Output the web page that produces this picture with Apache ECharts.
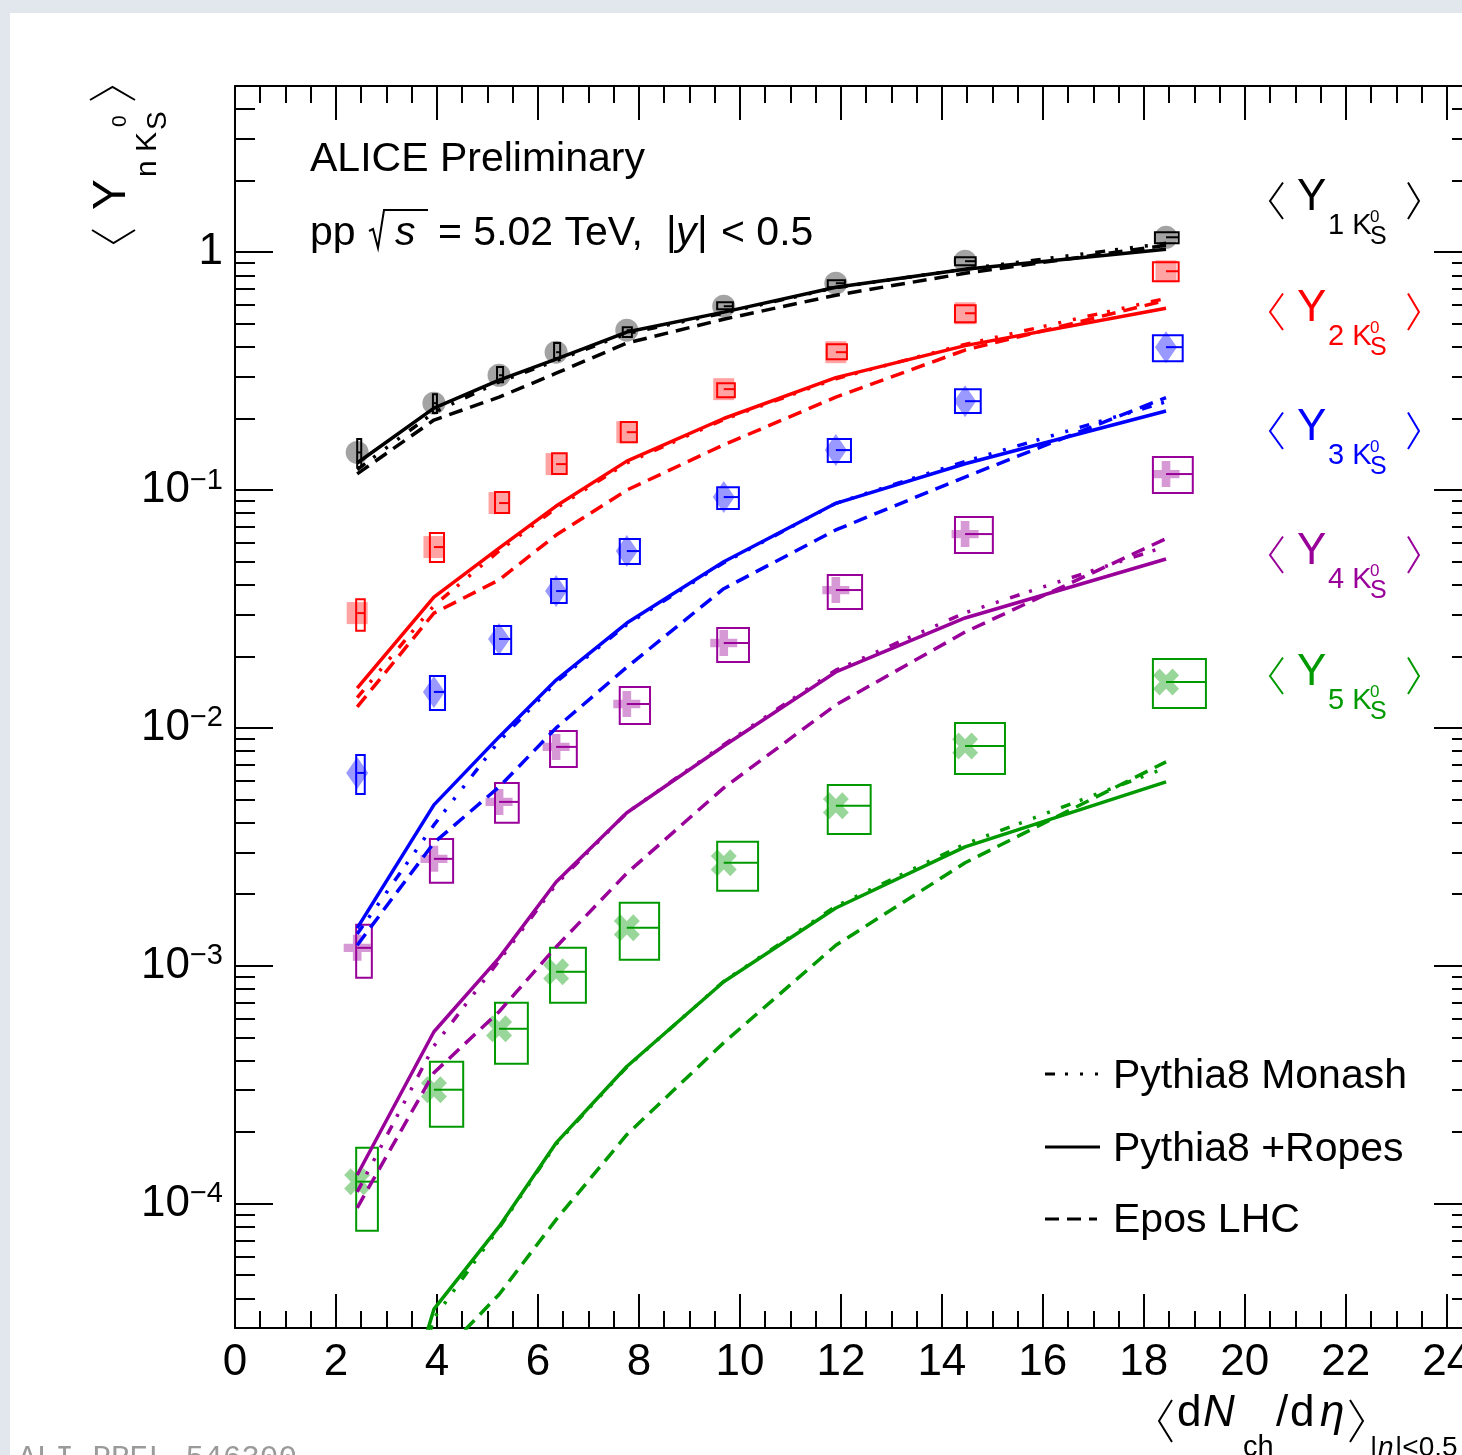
<!DOCTYPE html>
<html><head><meta charset="utf-8">
<script src="https://cdn.jsdelivr.net/npm/echarts@6/dist/echarts.min.js"></script>
<style>
html,body{margin:0;padding:0;background:#e1e7ed;width:1462px;height:1455px;overflow:hidden;}
#bg{position:absolute;left:10px;top:13px;width:1452px;height:1442px;background:#fff;}
#c{position:absolute;left:0;top:0;width:1462px;height:1455px;}
</style>
</head><body><div id="bg"></div><div id="c"></div>
<script>
// ---------- data ----------
const xVals = [2.42, 3.94, 5.23, 6.36, 7.76, 9.68, 11.90, 14.46, 18.44];

// <Y_1K0S>
const yield1 = [0.144, 0.232, 0.304, 0.380, 0.470, 0.593, 0.741, 0.917, 1.156];
const sysHi1 = [0.164, 0.253, 0.329, 0.415, 0.484, 0.617, 0.763, 0.953, 1.213];
const sysLo1 = [0.125, 0.211, 0.284, 0.359, 0.440, 0.576, 0.713, 0.882, 1.091];
const boxL1 = [2.42, 3.92, 5.19, 6.32, 7.68, 9.55, 11.74, 14.26, 18.22];
const boxR1 = [2.50, 4.00, 5.31, 6.44, 7.86, 9.86, 12.08, 14.67, 18.69];
// <Y_2K0S>
const yield2 = [0.0304, 0.0576, 0.0882, 0.1286, 0.1752, 0.2657, 0.380, 0.554, 0.832];
const sysHi2 = [0.0348, 0.0660, 0.0981, 0.1430, 0.1931, 0.2816, 0.4106, 0.5988, 0.9078];
const sysLo2 = [0.0256, 0.0498, 0.0801, 0.1168, 0.1591, 0.2459, 0.3551, 0.5080, 0.7553];
const boxL2 = [2.40, 3.86, 5.15, 6.28, 7.64, 9.55, 11.72, 14.26, 18.18];
const boxR2 = [2.57, 4.14, 5.43, 6.57, 7.96, 9.90, 12.12, 14.67, 18.69];
// <Y_3K0S>
const yield3 = [0.00647, 0.01417, 0.02365, 0.03763, 0.05542, 0.09346, 0.1473, 0.2365, 0.399];
const sysHi3 = [0.00770, 0.01654, 0.02683, 0.04227, 0.06223, 0.1029, 0.1638, 0.2657, 0.448];
const sysLo3 = [0.00528, 0.01190, 0.02046, 0.03351, 0.04888, 0.08324, 0.1311, 0.2107, 0.3483];
const boxL3 = [2.40, 3.86, 5.13, 6.26, 7.62, 9.55, 11.74, 14.26, 18.18];
const boxR3 = [2.57, 4.16, 5.47, 6.57, 8.02, 9.98, 12.20, 14.77, 18.77];
// <Y_4K0S>
const yield4 = [0.00119, 0.002816, 0.004888, 0.008324, 0.01261, 0.02276, 0.0380, 0.06533, 0.1168];
const sysHi4 = [0.001488, 0.003416, 0.005873, 0.009714, 0.01488, 0.02632, 0.04395, 0.07701, 0.1376];
const sysLo4 = [0.000890, 0.002232, 0.003990, 0.006858, 0.01040, 0.01893, 0.03162, 0.05435, 0.09714];
const boxL4 = [2.40, 3.86, 5.15, 6.24, 7.62, 9.55, 11.74, 14.26, 18.18];
const boxR4 = [2.71, 4.32, 5.62, 6.77, 8.22, 10.18, 12.42, 15.01, 18.97];
// <Y_5K0S>
const yield5 = [0.0001237, 0.0003013, 0.0005435, 0.0009436, 0.001444, 0.002709, 0.004703, 0.008403, 0.01561];
const sysHi5 = [0.0001719, 0.000395, 0.0006992, 0.00119, 0.001839, 0.003319, 0.005761, 0.0105, 0.0195];
const sysLo5 = [0.0000770, 0.0002107, 0.0003875, 0.0006992, 0.001059, 0.002066, 0.003585, 0.006408, 0.01213];
const boxL5 = [2.40, 3.86, 5.15, 6.24, 7.62, 9.55, 11.74, 14.26, 18.18];
const boxR5 = [2.83, 4.52, 5.80, 6.95, 8.40, 10.36, 12.59, 15.25, 19.23];

// models
const ropes1  = [0.130, 0.221, 0.290, 0.355, 0.462, 0.560, 0.713, 0.848, 1.03];
const epos1   = [0.117, 0.197, 0.246, 0.310, 0.415, 0.523, 0.660, 0.816, 1.07];
const monash1 = [0.122, 0.212, 0.285, 0.350, 0.455, 0.555, 0.710, 0.850, 1.09];
const ropes2  = [0.0147, 0.0355, 0.0570, 0.0857, 0.1324, 0.200, 0.297, 0.405, 0.582];
const epos2   = [0.01226, 0.0304, 0.0419, 0.0647, 0.100, 0.155, 0.246, 0.388, 0.628];
const monash2 = [0.0134, 0.0327, 0.0555, 0.0840, 0.130, 0.198, 0.294, 0.410, 0.640];
const ropes3  = [0.00144, 0.00475, 0.00917, 0.0159, 0.0276, 0.050, 0.088, 0.129, 0.215];
const epos3   = [0.00122, 0.00329, 0.00565, 0.0100, 0.0180, 0.0385, 0.068, 0.1135, 0.245];
const monash3 = [0.00136, 0.00391, 0.0088, 0.0156, 0.0272, 0.0495, 0.088, 0.132, 0.235];
const ropes4  = [0.000132, 0.000528, 0.00108, 0.00225, 0.0044, 0.0084, 0.0172, 0.029, 0.0513];
const epos4   = [0.000096, 0.000355, 0.000641, 0.0012, 0.00245, 0.0056, 0.0125, 0.0253, 0.0625];
const monash4 = [0.000112, 0.00046, 0.00105, 0.0022, 0.0044, 0.0085, 0.0175, 0.0305, 0.058];
const ropes5  = [0.000003, 0.000036, 0.00008, 0.00018, 0.000377, 0.000857, 0.00175, 0.00316, 0.00593];
const epos5   = [0.0000015, 0.0000215, 0.0000415, 0.0000857, 0.000195, 0.000475, 0.00122, 0.00271, 0.0072];
const monash5 = [0.0000025, 0.000033, 0.000079, 0.000178, 0.000375, 0.00086, 0.00178, 0.00325, 0.0068];

// ticks
const xMajorTicks = [0, 2, 4, 6, 8, 10, 12, 14, 16, 18, 20, 22, 24];
const xMinorTicks = [0.5,1,1.5,2.5,3,3.5,4.5,5,5.5,6.5,7,7.5,8.5,9,9.5,10.5,11,11.5,12.5,13,13.5,14.5,15,15.5,16.5,17,17.5,18.5,19,19.5,20.5,21,21.5,22.5,23,23.5];
const yMajorTicks = [1e-4, 1e-3, 1e-2, 1e-1, 1];
const yMinorTicks = [4e-5,5e-5,6e-5,7e-5,8e-5,9e-5,
  2e-4,3e-4,4e-4,5e-4,6e-4,7e-4,8e-4,9e-4,
  2e-3,3e-3,4e-3,5e-3,6e-3,7e-3,8e-3,9e-3,
  0.02,0.03,0.04,0.05,0.06,0.07,0.08,0.09,
  0.2,0.3,0.4,0.5,0.6,0.7,0.8,0.9, 2,3,4];

// ---------- styles ----------
const FONT = '"Liberation Sans", Arial, Helvetica, "DejaVu Sans", sans-serif';
const COL = ['#000000', '#ff0000', '#0000ff', '#990099', '#009900'];
const FILL = ['rgba(0,0,0,0.45)', 'rgba(255,0,0,0.45)', 'rgba(0,0,255,0.5)', 'rgba(153,0,153,0.5)', 'rgba(0,153,0,0.5)'];
const PLUS = 'path://M3.4,0H6.6V3.4H10V6.6H6.6V10H3.4V6.6H0V3.4H3.4Z';
const CROSS = 'path://M0,2.5L2.5,0L5,2.5L7.5,0L10,2.5L7.5,5L10,7.5L7.5,10L5,7.5L2.5,10L0,7.5L2.5,5Z';
const SYM = ['circle', 'rect', 'diamond', PLUS, CROSS];
const SYMSIZE = [23, [21, 22], [22, 32], [27, 26], [26, 27]];
const DASH = [14, 8];
const DASHDOT = [10, 10, 3, 12, 3, 12, 3, 12];

const yields = [yield1, yield2, yield3, yield4, yield5];
const his = [sysHi1, sysHi2, sysHi3, sysHi4, sysHi5];
const los = [sysLo1, sysLo2, sysLo3, sysLo4, sysLo5];
const bLs = [boxL1, boxL2, boxL3, boxL4, boxL5];
const bRs = [boxR1, boxR2, boxR3, boxR4, boxR5];
const models = [
  [ropes1, epos1, monash1], [ropes2, epos2, monash2], [ropes3, epos3, monash3],
  [ropes4, epos4, monash4], [ropes5, epos5, monash5]];

const series = [];
for (let s = 0; s < 5; s++) {
  series.push({
    type: 'scatter', z: 3, silent: true,
    data: xVals.map((x, i) => [x, yields[s][i]]),
    symbol: SYM[s], symbolSize: SYMSIZE[s],
    itemStyle: { color: FILL[s] }
  });
}
for (let s = 0; s < 5; s++) {
  const col = COL[s];
  series.push({
    type: 'custom', z: 4, silent: true,
    data: xVals.map((x, i) => [bLs[s][i], bRs[s][i], los[s][i], his[s][i], x, yields[s][i]]),
    encode: { x: [0, 1, 4], y: [2, 3, 5] },
    renderItem: (params, api) => {
      const p1 = api.coord([api.value(0), api.value(3)]);
      const p2 = api.coord([api.value(1), api.value(2)]);
      const pm = api.coord([api.value(4), api.value(5)]);
      return { type: 'group', children: [
        { type: 'rect', shape: { x: p1[0], y: p1[1], width: p2[0] - p1[0], height: p2[1] - p1[1] },
          style: { fill: null, stroke: col, lineWidth: 2 } },
        { type: 'line', shape: { x1: pm[0], y1: pm[1], x2: p2[0], y2: pm[1] },
          style: { stroke: col, lineWidth: 2 } }
      ]};
    }
  });
}
const lineTypes = ['solid', DASH, DASHDOT];
for (let s = 0; s < 5; s++) {
  for (let m = 0; m < 3; m++) {
    series.push({
      type: 'line', z: 5, silent: true, symbol: 'none', showSymbol: false, clip: true,
      data: xVals.map((x, i) => [x, models[s][m][i]]),
      lineStyle: { color: COL[s], width: 3.5, type: lineTypes[m] }
    });
  }
}

function xAx(pos, ticks, len, withLabel, withLine) {
  return {
    type: 'value', min: 0, max: 24.5, position: pos, gridIndex: 0,
    axisLine: { show: withLine, onZero: false, lineStyle: { color: '#000', width: 2 } },
    axisTick: { show: true, inside: true, length: len, customValues: ticks, lineStyle: { color: '#000', width: 2 } },
    axisLabel: withLabel ? { show: true, customValues: ticks, fontSize: 44, fontFamily: FONT, color: '#000', margin: 13 } : { show: false },
    splitLine: { show: false }, minorTick: { show: false }
  };
}
function yAx(pos, ticks, len, withLabel, withLine) {
  return {
    type: 'log', logBase: 10, min: 3e-5, max: 5, position: pos, gridIndex: 0,
    axisLine: { show: withLine, onZero: false, lineStyle: { color: '#000', width: 2 } },
    axisTick: { show: true, inside: true, length: len, customValues: ticks, lineStyle: { color: '#000', width: 2 } },
    axisLabel: withLabel ? {
      show: true, customValues: ticks, margin: 12,
      formatter: v => {
        if (Math.abs(v - 1) < 1e-9) return '{b|1}';
        const e = Math.round(Math.log10(v));
        return '{b|10}{s|\u2212' + (-e) + '}';
      },
      rich: {
        b: { fontSize: 44, fontFamily: FONT, color: '#000', lineHeight: 48 },
        s: { fontSize: 29, fontFamily: FONT, color: '#000', lineHeight: 16, verticalAlign: 'top' }
      }
    } : { show: false },
    splitLine: { show: false }, minorTick: { show: false }
  };
}

// ---------- text helpers ----------
function txt(x, baseline, text, size, color, italic) {
  return { type: 'text', x: x, y: baseline - 0.35 * size, z: 50, silent: true,
    style: { text: text, fill: color || '#000', font: (italic ? 'italic ' : '') + size + 'px ' + FONT, verticalAlign: 'middle', align: 'left' } };
}
function pl(points, color, w) {
  return { type: 'polyline', z: 50, silent: true, shape: { points: points }, style: { stroke: color || '#000', lineWidth: w || 2, fill: null } };
}
function yLabel(x0, b, color, n) {
  return { type: 'group', children: [
    pl([[x0 - 14, b - 30.5], [x0 - 27, b - 12], [x0 - 14, b + 6]], color, 2),
    txt(x0, b, 'Y', 44, color),
    txt(x0 + 31, b + 23, n + ' K', 29, color),
    txt(x0 + 73, b + 10, '0', 17, color),
    txt(x0 + 73, b + 33, 'S', 25, color),
    pl([[x0 + 111, b - 30.5], [x0 + 122, b - 12], [x0 + 111, b + 6]], color, 2)
  ]};
}

const graphic = [
  txt(310, 174, 'ALICE Preliminary', 41),
  txt(310, 248, 'pp', 41),
  pl([[369, 231], [373, 229], [378, 248], [384, 210], [428, 210]], '#000', 2),
  txt(395, 248, 's', 41, '#000', true),
  txt(438, 248, '= 5.02 TeV,', 41),
  txt(666, 248, '|', 41),
  txt(676, 248, 'y', 41, '#000', true),
  txt(697, 248, '|', 41),
  txt(721, 248, '< 0.5', 41),
  yLabel(1297, 213, COL[0], 1),
  yLabel(1297, 324, COL[1], 2),
  yLabel(1297, 443, COL[2], 3),
  yLabel(1297, 567, COL[3], 4),
  yLabel(1297, 688, COL[4], 5),
  // legend
  { type: 'line', z: 50, silent: true, shape: { x1: 1045, y1: 1074, x2: 1100, y2: 1074 }, style: { stroke: '#000', lineWidth: 3, lineDash: DASHDOT } },
  txt(1113, 1091, 'Pythia8 Monash', 41),
  { type: 'line', z: 50, silent: true, shape: { x1: 1045, y1: 1147, x2: 1100, y2: 1147 }, style: { stroke: '#000', lineWidth: 3 } },
  txt(1113, 1164, 'Pythia8 +Ropes', 41),
  { type: 'line', z: 50, silent: true, shape: { x1: 1045, y1: 1219, x2: 1097, y2: 1219 }, style: { stroke: '#000', lineWidth: 3, lineDash: DASH } },
  txt(1113, 1235, 'Epos LHC', 41),
  // x title
  pl([[1172, 1400], [1159, 1421], [1172, 1442]], '#000', 2),
  txt(1177, 1429, 'd', 44),
  txt(1203, 1429, 'N', 44, '#000', true),
  txt(1243, 1458, 'ch', 29),
  txt(1276, 1429, '/', 44),
  txt(1290, 1429, 'd', 44),
  txt(1320, 1429, '\u03b7', 44, '#000', true),
  pl([[1350, 1400], [1363, 1421], [1350, 1442]], '#000', 2),
  txt(1370, 1458, '|', 28),
  txt(1378, 1458, '\u03b7', 28, '#000', true),
  txt(1395, 1458, '|<0.5', 28),
  // y title (rotated)
  { type: 'group', x: 128, y: 245, rotation: Math.PI / 2, children: [
    pl([[15, -36], [2, -14.5], [15, 7]], '#000', 2),
    txt(35, 0, 'Y', 46),
    txt(68, 30, 'n K', 30),
    txt(118, 0, '0', 21),
    txt(115, 40, 'S', 28),
    pl([[145, -38], [158, -15.5], [145, 7]], '#000', 2)
  ]},
  // preliminary id
  { type: 'text', x: 18, y: 1459, z: 50, silent: true,
    style: { text: 'ALI-PREL-546300', fill: '#9a9a9a', font: '31px "Liberation Mono", "DejaVu Sans Mono", monospace', verticalAlign: 'middle' } }
];

const chart = echarts.init(document.getElementById('c'), null, { renderer: 'canvas' });
chart.setOption({
  animation: false,
  backgroundColor: 'transparent',
  grid: { left: 235, right: -10, top: 86, bottom: 127, containLabel: false, outerBoundsMode: 'none' },
  xAxis: [
    xAx('bottom', xMajorTicks, 34, true, true),
    xAx('bottom', xMinorTicks, 17, false, false),
    xAx('top', xMajorTicks, 34, false, true),
    xAx('top', xMinorTicks, 17, false, false)
  ],
  yAxis: [
    yAx('left', yMajorTicks, 38, true, true),
    yAx('left', yMinorTicks, 20, false, false),
    yAx('right', yMajorTicks, 38, false, true),
    yAx('right', yMinorTicks, 20, false, false)
  ],
  series: series,
  graphic: graphic
});
</script>
</body></html>
